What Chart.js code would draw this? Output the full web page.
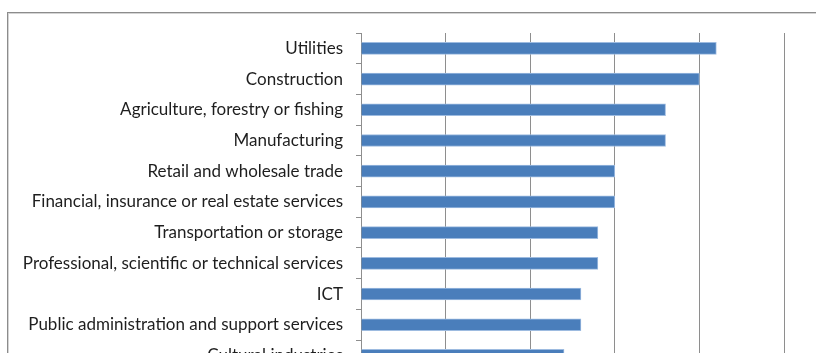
<!DOCTYPE html>
<html>
<head>
<meta charset="utf-8">
<script src="https://cdn.jsdelivr.net/npm/chart.js@4/dist/chart.umd.min.js"></script>
<style>
  html, body { margin: 0; padding: 0; background: #fff; overflow: hidden; width: 816px; height: 353px; }
  .frame {
    position: absolute; left: 7px; top: 12px; width: 900px; height: 500px;
    border-left: 1px solid #8c8c8c; border-top: 1px solid #8c8c8c;
    box-shadow: inset 1px 1px 0 #d4d4d4;
  }
  #chart { position: absolute; left: 0; top: 0; }
</style>
</head>
<body>
<div class="frame"></div>
<canvas id="chart" width="816" height="394"></canvas>
<script>
// sectors, top to bottom
const categories = [
  'Utilities',
  'Construction',
  'Agriculture, forestry or fishing',
  'Manufacturing',
  'Retail and wholesale trade',
  'Financial, insurance or real estate services',
  'Transportation or storage',
  'Professional, scientific or technical services',
  'ICT',
  'Public administration and support services',
  'Cultural industries'
];
const scores = [4.2, 4.0, 3.6, 3.6, 3.0, 3.0, 2.8, 2.8, 2.6, 2.6, 2.4];
const xMin = 0;
const xMax = 5;
const xStep = 1;

const barBlue = '#4a7ebb';
const gridGray = '#8e8e8e';

new Chart(document.getElementById('chart').getContext('2d'), {
  type: 'bar',
  data: {
    labels: categories,
    datasets: [{
      data: scores,
      backgroundColor: barBlue,
      borderColor: '#9dbbe0',
      borderWidth: 1,
      barThickness: 12
    }]
  },
  options: {
    indexAxis: 'y',
    responsive: false,
    animation: false,
    layout: { padding: { top: 33, right: 32, bottom: 0, left: 0 } },
    plugins: { legend: { display: false }, tooltip: { enabled: false } },
    scales: {
      x: {
        min: xMin,
        max: xMax,
        ticks: { display: false, stepSize: xStep },
        grid: { color: gridGray, lineWidth: 1, drawTicks: false },
        border: { display: false },
        afterFit: s => { s.height = 0; }
      },
      y: {
        ticks: {
          color: '#1e1e1e',
          padding: 13,
          font: { family: 'Lato', size: 17 }
        },
        grid: {
          offset: true,
          drawOnChartArea: false,
          drawTicks: true,
          tickLength: 5,
          color: gridGray
        },
        border: { display: true, color: gridGray, width: 1 },
        afterFit: s => { s.width = 361; }
      }
    }
  }
});
</script>
</body>
</html>
